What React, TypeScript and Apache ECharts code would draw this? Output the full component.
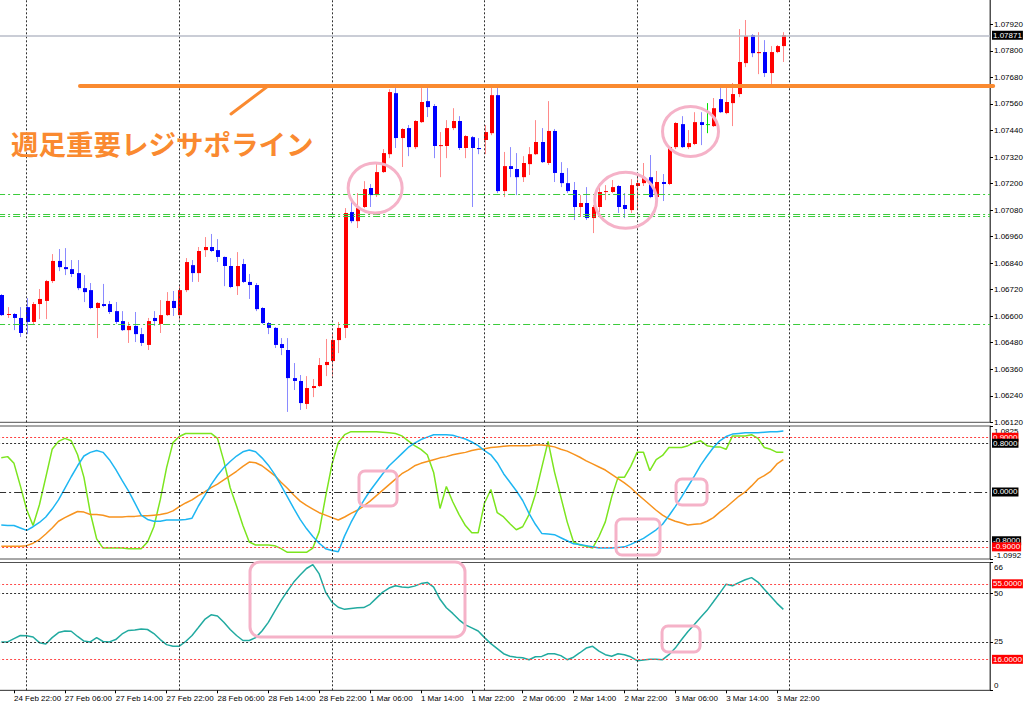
import React, { useEffect, useRef } from "react";
import * as echarts from "echarts";

const FONT = "'Liberation Sans', Arial, sans-serif";
const JP_FONT = "'Noto Sans CJK JP', 'Noto Sans CJK SC', sans-serif";

// ---------------- candle data (EURUSD H1) ----------------
const opens = [
  1.06696, 1.06608, 1.0661, 1.06592, 1.06641, 1.06574, 1.06655, 1.06669, 1.06759, 1.0685,
  1.06822, 1.06813, 1.06795, 1.06727, 1.06718, 1.06637, 1.06655, 1.06655, 1.06623, 1.06578,
  1.06537, 1.06556, 1.06519, 1.0647, 1.06592, 1.06565, 1.06605, 1.06669, 1.06605, 1.06718,
  1.06831, 1.06795, 1.06899, 1.06913, 1.06899, 1.06868, 1.06827, 1.06736, 1.06836, 1.06755,
  1.06741, 1.06637, 1.06569, 1.06547, 1.06474, 1.06447, 1.0632, 1.06307, 1.06203, 1.06275,
  1.06284, 1.06379, 1.06397, 1.06492, 1.06547, 1.07071, 1.0703, 1.07094, 1.0718, 1.07148,
  1.07252, 1.07333, 1.07609, 1.07406, 1.07451, 1.07365, 1.07478, 1.07573, 1.07551, 1.0737,
  1.0737, 1.07451, 1.07483, 1.07361, 1.0741, 1.07361, 1.07397, 1.07428, 1.076, 1.07166,
  1.07279, 1.07266, 1.07229, 1.07288, 1.07333, 1.07388, 1.07293, 1.07438, 1.07248, 1.07202,
  1.07171, 1.07094, 1.07112, 1.07044, 1.07094, 1.07162, 1.07162, 1.07189, 1.07103, 1.0708,
  1.07189, 1.07202, 1.07229, 1.07139, 1.07207, 1.07198, 1.07365, 1.07469, 1.07365, 1.07379,
  1.07478, 1.07469, 1.0746, 1.07582, 1.07519, 1.07564, 1.07605, 1.07745, 1.07872, 1.0779,
  1.07795, 1.077, 1.07795, 1.07822,
];
const closes = [
  1.06605, 1.0661, 1.06592, 1.06524, 1.06574, 1.06655, 1.06678, 1.06759, 1.0685, 1.06822,
  1.06813, 1.06791, 1.06727, 1.06709, 1.06637, 1.0666, 1.06646, 1.06619, 1.06574, 1.06537,
  1.06556, 1.06519, 1.06479, 1.06578, 1.06578, 1.06605, 1.06669, 1.06637, 1.06718, 1.06845,
  1.06795, 1.06895, 1.06913, 1.06895, 1.06868, 1.06827, 1.06732, 1.06827, 1.06755, 1.06741,
  1.06632, 1.06569, 1.06547, 1.0647, 1.06456, 1.0632, 1.06307, 1.06207, 1.06275, 1.06284,
  1.06379, 1.06393, 1.06492, 1.06547, 1.07067, 1.0703, 1.07089, 1.07175, 1.07148, 1.07252,
  1.07338, 1.07614, 1.07406, 1.07447, 1.07365, 1.07483, 1.07569, 1.07546, 1.0737, 1.07374,
  1.07451, 1.07483, 1.07361, 1.07415, 1.07361, 1.07356, 1.07433, 1.076, 1.07166, 1.07279,
  1.07266, 1.07229, 1.07293, 1.07333, 1.07388, 1.07297, 1.07438, 1.07248, 1.07202, 1.07166,
  1.07094, 1.07112, 1.07044, 1.07094, 1.07162, 1.07166, 1.07184, 1.07094, 1.07085, 1.07193,
  1.07202, 1.07229, 1.07139, 1.07207, 1.07198, 1.07365, 1.07474, 1.07365, 1.07383, 1.07478,
  1.07465, 1.07469, 1.07541, 1.07523, 1.07569, 1.07605, 1.0775, 1.07867, 1.0779, 1.07795,
  1.077, 1.07795, 1.07822, 1.07871,
];
const highs = [
  1.067, 1.06641, 1.06614, 1.06641, 1.06682, 1.06664, 1.06723, 1.06764, 1.06881, 1.06904,
  1.06908, 1.06854, 1.06854, 1.06786, 1.0675, 1.06664, 1.06746, 1.06669, 1.06664, 1.06623,
  1.06574, 1.06619, 1.06547, 1.06592, 1.06623, 1.06673, 1.06709, 1.06714, 1.06741, 1.06863,
  1.06854, 1.06913, 1.06958, 1.06972, 1.06949, 1.0687, 1.06863, 1.0689, 1.06859, 1.06791,
  1.0675, 1.06641, 1.06574, 1.06551, 1.06501, 1.06501, 1.06388, 1.06334, 1.06329, 1.06316,
  1.06411, 1.06497, 1.06524, 1.06574, 1.07089, 1.07125, 1.07157, 1.07211, 1.07198, 1.07297,
  1.07356, 1.07627, 1.07632, 1.07451, 1.07465, 1.07487, 1.07632, 1.07632, 1.0756, 1.07433,
  1.07487, 1.07541, 1.07505, 1.07419, 1.07415, 1.07406, 1.07465, 1.07637, 1.07637, 1.07343,
  1.07365, 1.07338, 1.07324, 1.07365, 1.07487, 1.07451, 1.07573, 1.07447, 1.07297, 1.0727,
  1.07207, 1.07148, 1.07184, 1.07103, 1.07202, 1.07193, 1.07216, 1.07193, 1.07157, 1.0722,
  1.07248, 1.07293, 1.07329, 1.07257, 1.07243, 1.0737, 1.07478, 1.07505, 1.07442, 1.07523,
  1.07523, 1.07564, 1.07587, 1.07632, 1.07632, 1.07655, 1.07899, 1.0794, 1.07876, 1.07885,
  1.07849, 1.07822, 1.07827, 1.07885,
];
const lows = [
  1.06601, 1.06592, 1.06537, 1.06506, 1.06519, 1.0656, 1.06587, 1.06587, 1.0675, 1.06804,
  1.06786, 1.06777, 1.06718, 1.06664, 1.06632, 1.06501, 1.06641, 1.0661, 1.06565, 1.06533,
  1.06479, 1.06483, 1.06465, 1.06447, 1.06556, 1.06524, 1.06601, 1.06601, 1.06583, 1.06709,
  1.06755, 1.06755, 1.06868, 1.0689, 1.06845, 1.06736, 1.06727, 1.06696, 1.0675, 1.06678,
  1.06623, 1.06565, 1.06519, 1.06456, 1.06424, 1.06167, 1.06266, 1.06176, 1.0618, 1.06234,
  1.0628, 1.06329, 1.06329, 1.06433, 1.06501, 1.07021, 1.06999, 1.07089, 1.07094, 1.07139,
  1.07248, 1.07315, 1.07361, 1.07275, 1.07324, 1.07356, 1.07474, 1.07501, 1.07315, 1.07229,
  1.07315, 1.07442, 1.07352, 1.07315, 1.07094, 1.07333, 1.07333, 1.07419, 1.07157, 1.07139,
  1.07229, 1.07148, 1.07207, 1.07239, 1.07329, 1.07293, 1.07284, 1.07207, 1.07184, 1.07157,
  1.07035, 1.07049, 1.07035, 1.06976, 1.07071, 1.07125, 1.07157, 1.07067, 1.07044, 1.07067,
  1.0708, 1.07189, 1.07134, 1.07134, 1.07121, 1.07193, 1.07356, 1.07361, 1.07356, 1.07374,
  1.07374, 1.07428, 1.07456, 1.07519, 1.07514, 1.0746, 1.07591, 1.07727, 1.07772, 1.07695,
  1.07682, 1.0765, 1.0779, 1.0775,
];

// ---------------- oscillator pane ----------------
const greenOsc = [
  0.56, 0.58, 0.47, 0.1, -0.29, -0.55, -0.21, 0.24, 0.7, 0.83,
  0.88, 0.84, 0.61, 0.24, -0.34, -0.77, -0.92, -0.92, -0.92, -0.92,
  -0.93, -0.93, -0.93, -0.82, -0.57, -0.13, 0.4, 0.81, 0.91, 0.96,
  0.96, 0.96, 0.96, 0.96, 0.88, 0.51, 0.07, -0.23, -0.55, -0.82,
  -0.87, -0.87, -0.87, -0.88, -0.93, -0.99, -0.99, -0.99, -0.99, -0.92,
  -0.65, -0.08, 0.45, 0.81, 0.94, 0.99, 0.99, 0.99, 0.99, 0.99,
  0.98, 0.97, 0.96, 0.92, 0.84, 0.76, 0.7, 0.61, 0.32, -0.27,
  0.09, -0.16, -0.37, -0.55, -0.67, -0.67, -0.18, 0.04, -0.34, -0.41,
  -0.52, -0.62, -0.57, -0.37, -0.04, 0.4, 0.83, 0.33, -0.08, -0.49,
  -0.82, -0.87, -0.89, -0.92, -0.73, -0.49, -0.08, 0.24, 0.24, 0.42,
  0.65, 0.65, 0.35, 0.53, 0.6, 0.73, 0.73, 0.73, 0.76, 0.81,
  0.84, 0.76, 0.74, 0.74, 0.7, 0.92, 0.92, 0.92, 0.94, 0.88,
  0.73, 0.7, 0.65, 0.65,
];
const blueOsc = [
  -0.54, -0.55, -0.55, -0.59, -0.63, -0.57, -0.5, -0.41, -0.28, -0.13,
  0.06, 0.25, 0.43, 0.59, 0.65, 0.68, 0.65, 0.53, 0.37, 0.19,
  0.02, -0.18, -0.38, -0.45, -0.48, -0.48, -0.46, -0.46, -0.46, -0.45,
  -0.43, -0.23, -0.06, 0.12, 0.27, 0.4, 0.5, 0.59, 0.66, 0.69,
  0.66, 0.56, 0.44, 0.29, 0.11, -0.08, -0.27, -0.45, -0.6, -0.73,
  -0.84, -0.93, -0.96, -0.98, -0.72, -0.5, -0.31, -0.14, 0.02, 0.16,
  0.3, 0.43, 0.53, 0.63, 0.73, 0.8, 0.86, 0.9, 0.94, 0.94,
  0.94, 0.93, 0.9, 0.87, 0.82, 0.76, 0.68, 0.61, 0.48, 0.3,
  0.16, 0.02, -0.14, -0.35, -0.53, -0.68, -0.69, -0.7, -0.75, -0.8,
  -0.85, -0.86, -0.88, -0.9, -0.92, -0.92, -0.92, -0.91, -0.9, -0.86,
  -0.81, -0.76, -0.69, -0.62, -0.53, -0.39, -0.24, -0.08, 0.09, 0.26,
  0.44, 0.59, 0.73, 0.84, 0.91, 0.95, 0.96, 0.97, 0.97, 0.97,
  0.98, 0.99, 0.99, 1.0,
];
const orangeOsc = [
  -0.89, -0.89, -0.89, -0.89, -0.88, -0.84, -0.78, -0.69, -0.59, -0.48,
  -0.42, -0.37, -0.32, -0.33, -0.37, -0.37, -0.38, -0.41, -0.41, -0.41,
  -0.4, -0.4, -0.39, -0.39, -0.38, -0.37, -0.35, -0.31, -0.24, -0.18,
  -0.13, -0.06, 0.0, 0.07, 0.13, 0.2, 0.27, 0.34, 0.42, 0.49,
  0.48, 0.43, 0.35, 0.27, 0.16, 0.06, -0.05, -0.15, -0.22, -0.28,
  -0.34, -0.38, -0.42, -0.46, -0.41, -0.35, -0.3, -0.23, -0.15, -0.06,
  0.03, 0.12, 0.21, 0.3, 0.36, 0.43, 0.47, 0.5, 0.53, 0.56,
  0.58, 0.61, 0.63, 0.65, 0.68, 0.7, 0.71, 0.73, 0.74, 0.75,
  0.76, 0.76, 0.76, 0.76, 0.77, 0.77, 0.76, 0.74, 0.7, 0.67,
  0.62, 0.57, 0.51, 0.46, 0.41, 0.36, 0.29, 0.22, 0.15, 0.07,
  -0.03, -0.12, -0.21, -0.3, -0.38, -0.44, -0.48, -0.51, -0.54, -0.53,
  -0.52, -0.48, -0.42, -0.33, -0.25, -0.16, -0.07, 0.0, 0.1, 0.21,
  0.27, 0.34, 0.46, 0.53,
];

// ---------------- lower pane (0..66) ----------------
const tealLine = [
  25.0, 25.0, 26.7, 28.3, 28.2, 27.5, 24.6, 23.9, 27.2, 29.8,
  30.6, 30.5, 27.8, 25.4, 25.0, 27.2, 25.2, 25.0, 26.2, 29.1,
  30.9, 31.1, 31.7, 31.4, 29.3, 26.2, 23.6, 22.7, 22.8, 25.2,
  28.3, 32.4, 36.6, 39.0, 38.4, 35.1, 31.4, 28.3, 25.7, 25.7,
  27.2, 30.6, 35.1, 40.8, 46.3, 51.2, 55.9, 59.5, 62.9, 64.9,
  60.1, 50.7, 45.5, 42.9, 41.8, 42.3, 42.6, 42.7, 44.4, 47.6,
  50.7, 52.8, 54.0, 53.3, 53.1, 53.8, 55.1, 55.7, 53.3, 47.0,
  42.6, 39.7, 36.4, 33.8, 32.2, 30.6, 27.2, 24.1, 21.5, 18.9,
  17.6, 17.1, 16.8, 15.8, 17.3, 17.5, 18.9, 18.9, 17.9, 15.8,
  17.1, 19.4, 21.8, 22.7, 20.2, 18.4, 17.6, 18.9, 18.4, 17.3,
  15.3, 15.6, 16.0, 16.0, 15.8, 18.4, 21.8, 26.2, 30.4, 34.0,
  37.7, 41.3, 45.7, 50.2, 54.8, 54.0, 55.6, 57.1, 58.2, 55.9,
  52.2, 48.6, 44.9, 41.8,
];

// ---------------- axes / levels ----------------
const PRICE_MIN = 1.0612;
const PRICE_MAX = 1.08035;
const PRICE_STEP = 0.0012;
const OSC_MIN = -1.0992;
const OSC_MAX = 1.0825;
const LOW_MIN = 0;
const LOW_MAX = 66;
const LOW_STEP = 25;

const supportLevels = [1.07151, 1.07061, 1.0705, 1.06563];
const bidPrice = 1.07871;
const keyLevel = 1.07641;
const oscLevels = [
  { v: 0.9, label: "0.9000", red: true },
  { v: 0.8, label: "0.8000", red: false },
  { v: 0.0, label: "0.0000", red: false, dashDot: true },
  { v: -0.8, label: "-0.8000", red: false },
  { v: -0.9, label: "-0.9000", red: true },
];
const lowLevels = [
  { v: 55, label: "55.0000", red: true },
  { v: 50, label: "", red: false },
  { v: 25, label: "", red: false },
  { v: 16, label: "16.0000", red: true },
];
const noteText = "週足重要レジサポライン";

// annotations in data terms (bar index, value)
const circleNotes = [
  { i: 58.8, p: 1.0718, rx: 27, ry: 25 },
  { i: 98.2, p: 1.07124, rx: 31, ry: 28 },
  { i: 108.4, p: 1.07436, rx: 28, ry: 25 },
];
const oscBoxes = [
  { i0: 56.26, i1: 62.24, v0: 0.344, v1: -0.23 },
  { i0: 96.68, i1: 103.6, v0: -0.443, v1: -1.033 },
  { i0: 106.12, i1: 111.0, v0: 0.213, v1: -0.213 },
];
const lowBoxes = [
  { i0: 39.12, i1: 72.93, v0: 66.26, v1: 27.53, r: 10 },
  { i0: 103.92, i1: 109.9, v0: 33.2, v1: 19.78, r: 6 },
];
const keyLineStart = 12.38;
const keyLineEnd = 156;
const pointer = { i0: 36.13, p0: 1.07515, i1: 41.95, p1: 1.07641 };
const textAnchor = { i: 1.53, p: 1.07384 };

// ---------------- time categories ----------------
const MONTHS = ["Jan", "Feb", "Mar", "Apr", "May", "Jun", "Jul", "Aug", "Sep", "Oct", "Nov", "Dec"];
const TOTAL_SLOTS = 156;
const LABEL_HOURS = ["06:00", "14:00", "22:00"];
function buildBarTimes(count: number): string[] {
  const out: string[] = [];
  const t = new Date(Date.UTC(2017, 1, 24, 20));
  while (out.length < count) {
    const dow = t.getUTCDay();
    if (dow !== 0 && dow !== 6) {
      const hh = String(t.getUTCHours()).padStart(2, "0");
      out.push(`${t.getUTCDate()} ${MONTHS[t.getUTCMonth()]} ${hh}:00`);
    }
    t.setUTCHours(t.getUTCHours() + 1);
  }
  return out;
}
const barTimes = buildBarTimes(TOTAL_SLOTS);
const daySeparators = barTimes.filter((s, i) => s.endsWith(" 00:00") && i <= opens.length);

const PINK = "#F5B2C8";
const ORANGE = "#FA8A30";

export default function App() {
  const ref = useRef<HTMLDivElement>(null);

  useEffect(() => {
    const el = ref.current;
    if (!el) return;
    const chart = echarts.init(el, null, { renderer: "svg" });

    const candleData = opens.map((o, i) => [i, o, closes[i], lows[i], highs[i]]);
    const dotted = { color: "#303030", type: [2, 2], width: 1 };
    const dayLines = daySeparators.map((name) => ({ xAxis: name, lineStyle: dotted }));
    const boxLabel = (text: string, bg: string) => ({
      show: true,
      position: "end",
      formatter: text,
      color: "#fff",
      backgroundColor: bg,
      padding: [1, 1, 0, 1],
      fontSize: 8,
      fontFamily: FONT,
      distance: 2,
    });

    const gridBase = {
      left: -1.9,
      width: 991.9,
      show: true,
      borderColor: "#505050",
      borderWidth: 1,
      backgroundColor: "#fff",
      containLabel: false,
      outerBoundsMode: "none",
    };
    const hiddenX = (g: number) => ({
      type: "category",
      gridIndex: g,
      data: barTimes,
      boundaryGap: true,
      axisLine: { show: false },
      axisTick: { show: false },
      axisLabel: { show: false },
      splitLine: { show: false },
    });
    const yCommon = {
      type: "value",
      position: "right",
      scale: false,
      splitLine: { show: false },
      axisLine: { show: true, lineStyle: { color: "#505050" } },
      axisTick: { show: true, length: 3, lineStyle: { color: "#000" } },
    };
    const labelStyle = { fontSize: 8, fontFamily: FONT, color: "#000", margin: 4 };
    const showTime = (i: number, v: string) => i < opens.length && LABEL_HOURS.some((h) => v.endsWith(h));

    const option: any = {
      animation: false,
      backgroundColor: "#fff",
      grid: [
        { ...gridBase, top: -1, height: 423.3 },
        { ...gridBase, top: 426, height: 133 },
        { ...gridBase, top: 562.5, height: 127.8 },
      ],
      xAxis: [
        hiddenX(0),
        hiddenX(1),
        {
          type: "category",
          gridIndex: 2,
          data: barTimes,
          boundaryGap: true,
          axisLine: { show: true, lineStyle: { color: "#505050" } },
          axisTick: {
            show: true,
            alignWithLabel: true,
            length: 3,
            lineStyle: { color: "#000" },
            interval: showTime,
          },
          axisLabel: {
            show: true,
            align: "left",
            fontSize: 8,
            fontFamily: FONT,
            color: "#000",
            margin: 4,
            showMinLabel: true,
            hideOverlap: false,
            interval: showTime,
          },
          splitLine: { show: false },
        },
      ],
      yAxis: [
        {
          ...yCommon,
          gridIndex: 0,
          min: PRICE_MIN,
          max: PRICE_MAX,
          interval: PRICE_STEP,
          axisLabel: { ...labelStyle, showMaxLabel: false, formatter: (v: number) => v.toFixed(5) },
        },
        {
          ...yCommon,
          gridIndex: 1,
          min: OSC_MIN,
          max: OSC_MAX,
          interval: OSC_MAX - OSC_MIN,
          axisLabel: {
            ...labelStyle,
            formatter: (v: number) => (v > 0 ? `{t|${OSC_MAX.toFixed(4)}}` : `{b|${OSC_MIN.toFixed(4)}}`),
            rich: { t: { padding: [10, 0, 0, 0] }, b: { padding: [0, 0, 8, 0] } },
          },
        },
        {
          ...yCommon,
          gridIndex: 2,
          min: LOW_MIN,
          max: LOW_MAX,
          interval: LOW_STEP,
          axisLabel: {
            ...labelStyle,
            formatter: (v: number) => (v >= LOW_MAX ? `{t|${v}}` : v <= LOW_MIN ? `{b|${v}}` : String(v)),
            rich: { t: { padding: [9, 0, 0, 0] }, b: { padding: [0, 0, 9, 0] } },
          },
        },
      ],
      series: [
        {
          name: "levels",
          type: "line",
          xAxisIndex: 0,
          yAxisIndex: 0,
          data: closes,
          showSymbol: false,
          silent: true,
          lineStyle: { width: 0, opacity: 0 },
          z: 1,
          markLine: {
            silent: true,
            precision: 5,
            symbol: ["none", "none"],
            label: { show: false },
            data: [
              ...dayLines,
              ...supportLevels.map((v) => ({ yAxis: v, lineStyle: { color: "#3ccc3c", type: [7, 3, 2, 3], width: 1 } })),
              {
                yAxis: bidPrice,
                lineStyle: { color: "#b8bcc8", type: "solid", width: 1.5 },
                label: boxLabel(bidPrice.toFixed(5), "#000"),
              },
            ],
          },
        },
        {
          name: "EURUSD",
          type: "custom",
          xAxisIndex: 0,
          yAxisIndex: 0,
          data: candleData,
          encode: { x: 0, y: [1, 2, 3, 4] },
          z: 3,
          renderItem: (params: any, api: any) => {
            const i = api.value(0);
            const o = api.value(1);
            const c = api.value(2);
            const l = api.value(3);
            const h = api.value(4);
            const po = api.coord([i, o]);
            const pc = api.coord([i, c]);
            const pl = api.coord([i, l]);
            const ph = api.coord([i, h]);
            const xr = Math.round(po[0]);
            const up = c > o;
            const down = c < o;
            const body = up ? "#ff0000" : down ? "#0000ff" : "#00e000";
            const wick = up ? "#ff8a8a" : down ? "#8a8aff" : "#00e000";
            const top = Math.min(po[1], pc[1]);
            const hgt = Math.max(Math.abs(po[1] - pc[1]), 1);
            return {
              type: "group",
              children: [
                { type: "line", shape: { x1: xr + 0.5, y1: ph[1], x2: xr + 0.5, y2: pl[1] }, style: { stroke: wick, lineWidth: 1 } },
                { type: "rect", shape: { x: xr - 1, y: top, width: 4, height: hgt }, style: { fill: body } },
              ],
            };
          },
        },
        {
          name: "green",
          type: "line",
          xAxisIndex: 1,
          yAxisIndex: 1,
          data: greenOsc,
          showSymbol: false,
          lineStyle: { color: "#7CE51F", width: 1.5 },
          z: 3,
          markLine: {
            silent: true,
            precision: 5,
            symbol: ["none", "none"],
            label: { show: false },
            data: [
              ...dayLines,
              ...oscLevels.map((lv) => ({
                yAxis: lv.v,
                lineStyle: lv.dashDot
                  ? { color: "#303030", type: [8, 3, 2, 3], width: 1 }
                  : { color: lv.red ? "#ff4040" : "#303030", type: [2, 2], width: 1 },
                label: boxLabel(lv.label, lv.red ? "#ff0000" : "#000"),
              })),
            ],
          },
        },
        {
          name: "orange",
          type: "line",
          xAxisIndex: 1,
          yAxisIndex: 1,
          data: orangeOsc,
          showSymbol: false,
          lineStyle: { color: "#F7931E", width: 1.5 },
          z: 3,
        },
        {
          name: "blue",
          type: "line",
          xAxisIndex: 1,
          yAxisIndex: 1,
          data: blueOsc,
          showSymbol: false,
          lineStyle: { color: "#1EB6F2", width: 1.5 },
          z: 3,
        },
        {
          name: "teal",
          type: "line",
          xAxisIndex: 2,
          yAxisIndex: 2,
          data: tealLine,
          showSymbol: false,
          lineStyle: { color: "#22AAA0", width: 1.5 },
          z: 3,
          markLine: {
            silent: true,
            precision: 5,
            symbol: ["none", "none"],
            label: { show: false },
            data: [
              ...dayLines,
              ...lowLevels.map((lv) => ({
                yAxis: lv.v,
                lineStyle: { color: lv.red ? "#ff4a4a" : "#303030", type: [2, 2], width: 1 },
                label: lv.label ? boxLabel(lv.label, "#ff0000") : { show: false },
              })),
            ],
          },
        },
      ],
    };

    chart.setOption(option);

    const toPx = (g: number, i: number, v: number) => {
      const a = chart.convertToPixel({ gridIndex: g } as any, [0, v]) as number[];
      const b = chart.convertToPixel({ gridIndex: g } as any, [1, v]) as number[];
      return [a[0] + (b[0] - a[0]) * i, a[1]];
    };

    const graphics: any[] = [];
    const ks = toPx(0, keyLineStart, keyLevel);
    const ke = toPx(0, keyLineEnd, keyLevel);
    graphics.push({
      type: "line",
      z: 100,
      shape: { x1: ks[0], y1: ks[1], x2: ke[0], y2: ke[1] },
      style: { stroke: ORANGE, lineWidth: 4, lineCap: "round" },
    });
    const ps = toPx(0, pointer.i0, pointer.p0);
    const pe = toPx(0, pointer.i1, pointer.p1);
    graphics.push({
      type: "line",
      z: 100,
      shape: { x1: ps[0], y1: ps[1], x2: pe[0], y2: pe[1] },
      style: { stroke: ORANGE, lineWidth: 3, lineCap: "round" },
    });
    const tp = toPx(0, textAnchor.i, textAnchor.p);
    graphics.push({
      type: "text",
      z: 100,
      x: tp[0],
      y: tp[1],
      style: {
        text: noteText,
        fill: ORANGE,
        fontSize: 27.5,
        fontWeight: "bold",
        fontFamily: JP_FONT,
        align: "left",
        verticalAlign: "middle",
      },
    });
    circleNotes.forEach((c) => {
      const p = toPx(0, c.i, c.p);
      graphics.push({
        type: "ellipse",
        z: 100,
        shape: { cx: p[0], cy: p[1], rx: c.rx, ry: c.ry },
        style: { fill: "none", stroke: PINK, lineWidth: 3 },
      });
    });
    const boxes = [
      ...oscBoxes.map((b) => ({ ...b, g: 1, r: 6 })),
      ...lowBoxes.map((b) => ({ ...b, g: 2 })),
    ];
    boxes.forEach((b) => {
      const a = toPx(b.g, b.i0, b.v0);
      const c = toPx(b.g, b.i1, b.v1);
      graphics.push({
        type: "rect",
        z: 100,
        shape: { x: a[0], y: a[1], width: c[0] - a[0], height: c[1] - a[1], r: b.r },
        style: { fill: "none", stroke: PINK, lineWidth: 3 },
      });
    });
    chart.setOption({ graphic: graphics });

    return () => chart.dispose();
  }, []);

  return (
    <div
      ref={ref}
      style={{ position: "fixed", left: 0, top: 0, width: 1024, height: 708, background: "#fff" }}
    />
  );
}
